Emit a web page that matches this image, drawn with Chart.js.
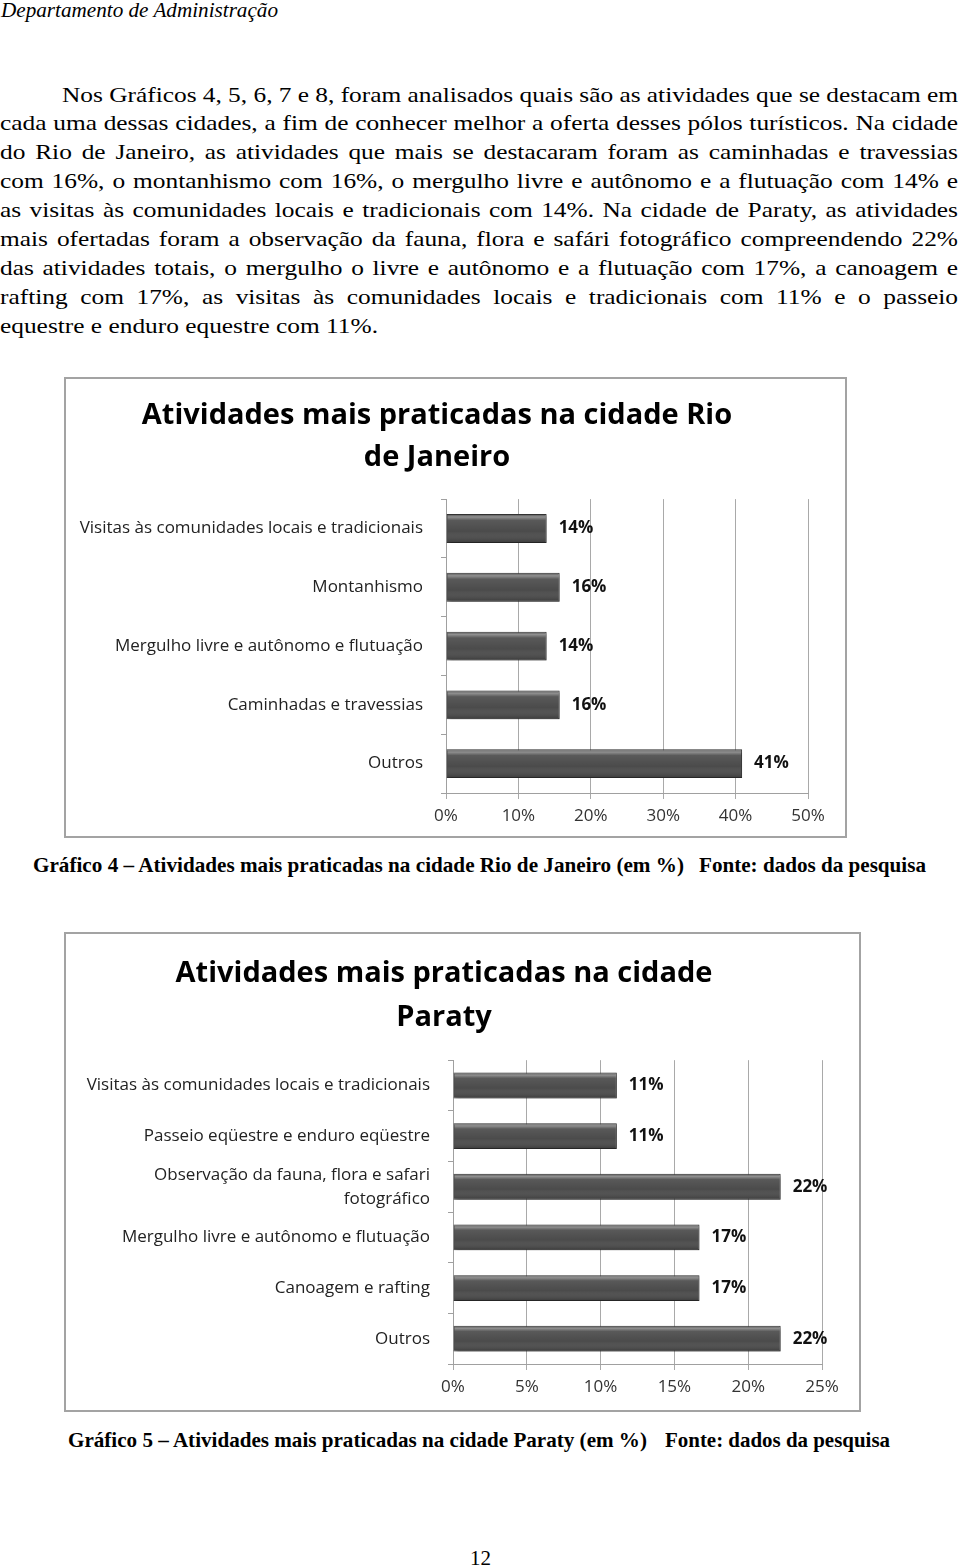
<!DOCTYPE html>
<html>
<head>
<meta charset="utf-8">
<script src="https://cdn.jsdelivr.net/npm/chart.js@4.4.0/dist/chart.umd.min.js"></script>
<style>
  body { margin: 0; width: 960px; height: 1568px; position: relative; overflow: hidden; background: #fff; color: #000; font-family: "Liberation Serif", "Times New Roman", serif; }
  .t { position: absolute; white-space: nowrap; transform-origin: 0 50%; }
  .line { position: absolute; white-space: nowrap; transform-origin: 0 50%; font-size: 21.5px; height: 29px; line-height: 29px; }
  .box { position: absolute; border: 2px solid #a3a3a3; box-sizing: border-box; }
  .box canvas { display: block; }
</style>
</head>
<body>

<div class="t" id="hdr" style="left:1px;top:-1px;font-style:italic;font-size:21px;line-height:22px">Departamento de Administração</div>

<div id="para"></div>

<div class="box" style="left:64px;top:377px;width:783px;height:461px"><canvas id="rio" width="779" height="457"></canvas></div>
<div class="t cap" data-w="651" style="left:33px;top:853px;font-weight:bold;font-size:22px;line-height:24px">Gráfico 4 – Atividades mais praticadas na cidade Rio de Janeiro (em %)</div>
<div class="t cap" data-w="227" style="left:699px;top:853px;font-weight:bold;font-size:22px;line-height:24px">Fonte: dados da pesquisa</div>

<div class="box" style="left:64px;top:932px;width:797px;height:480px"><canvas id="paraty" width="793" height="476"></canvas></div>
<div class="t cap" data-w="579" style="left:68px;top:1428px;font-weight:bold;font-size:22px;line-height:24px">Gráfico 5 – Atividades mais praticadas na cidade Paraty (em %)</div>
<div class="t cap" data-w="225" style="left:665px;top:1428px;font-weight:bold;font-size:22px;line-height:24px">Fonte: dados da pesquisa</div>

<div class="t" style="left:470px;top:1546px;font-size:21px;line-height:24px">12</div>

<script>
// --- data ---
const rioTitle = ['Atividades mais praticadas na cidade Rio', 'de Janeiro'];
const rioLabels = ['Visitas às comunidades locais e tradicionais', 'Montanhismo', 'Mergulho livre e autônomo e flutuação', 'Caminhadas e travessias', 'Outros'];
const rioValues = [13.9, 15.7, 13.9, 15.7, 40.9];
const rioTicks = [0, 10, 20, 30, 40, 50];

const paratyTitle = ['Atividades mais praticadas na cidade', 'Paraty'];
const paratyLabels = ['Visitas às comunidades locais e tradicionais', 'Passeio eqüestre e enduro eqüestre', ['Observação da fauna, flora e safari', 'fotográfico'], 'Mergulho livre e autônomo e flutuação', 'Canoagem e rafting', 'Outros'];
const paratyValues = [11.1, 11.1, 22.2, 16.7, 16.7, 22.2];
const paratyTicks = [0, 5, 10, 15, 20, 25];

const paraLines = [
  'Nos Gráficos 4, 5, 6, 7 e 8, foram analisados quais são as atividades que se destacam em',
  'cada uma dessas cidades, a fim de conhecer melhor a oferta desses pólos turísticos. Na cidade',
  'do Rio de Janeiro, as atividades que mais se destacaram foram as caminhadas e travessias',
  'com 16%, o montanhismo com 16%, o mergulho livre e autônomo e a flutuação com 14% e',
  'as visitas às comunidades locais e tradicionais com 14%. Na cidade de Paraty, as atividades',
  'mais ofertadas foram a observação da fauna, flora e safári fotográfico compreendendo 22%',
  'das atividades totais, o mergulho o livre e autônomo e a flutuação com 17%, a canoagem e',
  'rafting com 17%, as visitas às comunidades locais e tradicionais com 11% e o passeio',
  'equestre e enduro equestre com 11%.'
];

// --- page text ---
const para = document.getElementById('para');
const divs = paraLines.map((txt, i) => {
  const d = document.createElement('div');
  d.className = 'line';
  d.textContent = txt;
  d.style.left = (i === 0 ? 62 : 0) + 'px';
  d.style.top = (80.5 + i * 28.9) + 'px';
  para.appendChild(d);
  return d;
});
// horizontal stretch taken from the last (unjustified) line
const last = divs[divs.length - 1];
const sq = 378 / last.getBoundingClientRect().width;
divs.forEach((d, i) => {
  d.style.transform = 'scaleX(' + sq + ')';
  if (i === divs.length - 1) return;
  const nat = d.getBoundingClientRect().width / sq;
  const target = (958 - (i === 0 ? 62 : 0)) / sq;
  const spaces = d.textContent.split(' ').length - 1;
  d.style.wordSpacing = ((target - nat) / spaces) + 'px';
});
document.querySelectorAll('.cap').forEach(el => {
  const w = el.getBoundingClientRect().width;
  el.style.transform = 'scaleX(' + (+el.dataset.w / w) + ')';
});
const hdr = document.getElementById('hdr');
hdr.style.transform = 'scaleX(' + (277 / hdr.getBoundingClientRect().width) + ')';

// --- charts ---
const barLook = {
  id: 'barLook',
  beforeDatasetsDraw(chart) {
    const ctx = chart.ctx;
    ctx.save();
    ctx.shadowColor = 'rgba(0,0,0,0.35)';
    ctx.shadowBlur = 3;
    ctx.shadowOffsetX = 2;
    ctx.shadowOffsetY = 2;
  },
  afterDatasetsDraw(chart) {
    const ctx = chart.ctx;
    ctx.restore();
    const vals = chart.data.datasets[0].data;
    chart.getDatasetMeta(0).data.forEach((bar, i) => {
      const top = bar.y - bar.height / 2;
      const g = ctx.createLinearGradient(0, top, 0, top + bar.height);
      g.addColorStop(0, 'rgba(255,255,255,0.05)');
      g.addColorStop(0.1, 'rgba(255,255,255,0.38)');
      g.addColorStop(0.22, 'rgba(255,255,255,0.08)');
      g.addColorStop(0.6, 'rgba(255,255,255,0)');
      g.addColorStop(1, 'rgba(0,0,0,0.25)');
      ctx.fillStyle = g;
      ctx.fillRect(bar.base + 1, top + 1, bar.x - bar.base - 2, bar.height - 2);
      ctx.fillStyle = '#111';
      ctx.font = 'bold 17px "Open Sans"';
      ctx.textBaseline = 'middle';
      ctx.textAlign = 'left';
      ctx.fillText(Math.round(vals[i]) + '%', bar.x + 12, bar.y);
    });
  }
};

function drawChart(id, title, labels, values, ticks, g) {
  new Chart(document.getElementById(id), {
    type: 'bar',
    data: {
      labels: labels,
      datasets: [{
        data: values,
        backgroundColor: '#4b4b4b',
        borderColor: '#333',
        borderWidth: 1,
        barPercentage: g.bar,
        categoryPercentage: 1
      }]
    },
    options: {
      indexAxis: 'y',
      responsive: false,
      animation: false,
      layout: { padding: { left: 0, right: g.right, top: 0, bottom: 0 } },
      plugins: {
        legend: { display: false },
        tooltip: { enabled: false },
        title: {
          display: true,
          text: title,
          color: '#000',
          font: { family: 'Open Sans', size: 29, weight: 'bold', lineHeight: g.tLine },
          padding: { top: g.tTop, bottom: g.tBot }
        }
      },
      scales: {
        x: {
          min: 0,
          max: ticks[ticks.length - 1],
          ticks: { stepSize: ticks[1] - ticks[0], callback: v => v + '%', color: '#333', font: { family: 'Open Sans', size: 17 }, padding: 7 },
          grid: { color: '#a9a9a9', tickLength: 6 },
          border: { color: '#a0a0a0' },
          afterFit: s => { s.height = g.bottom; }
        },
        y: {
          ticks: { color: '#222', font: { family: 'Open Sans', size: 17, lineHeight: 1.4 }, padding: 18 },
          grid: { drawOnChartArea: false, tickLength: 5, color: '#a0a0a0' },
          border: { color: '#a0a0a0' },
          afterFit: s => { s.width = g.left; }
        }
      }
    },
    plugins: [barLook]
  });
}

drawChart('rio', rioTitle, rioLabels, rioValues, rioTicks,
  { left: 380, right: 37, bottom: 43, bar: 0.49, tLine: 1.45, tTop: 16, tBot: 20 });
drawChart('paraty', paratyTitle, paratyLabels, paratyValues, paratyTicks,
  { left: 387, right: 37, bottom: 46, bar: 0.51, tLine: 1.52, tTop: 18, tBot: 20 });
</script>
</body>
</html>
